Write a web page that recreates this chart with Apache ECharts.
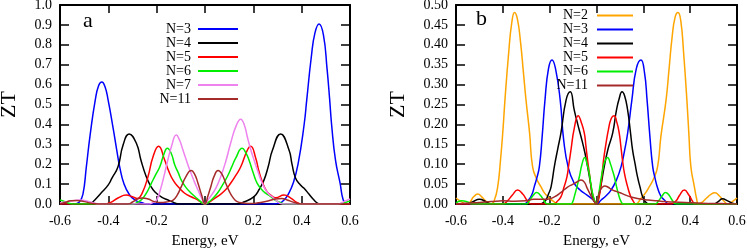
<!DOCTYPE html>
<html><head><meta charset="utf-8">
<script src="https://cdn.jsdelivr.net/npm/echarts@6/dist/echarts.min.js"></script>
<style>html,body{margin:0;padding:0;background:#fff}#c{width:747px;height:249px}</style>
</head><body><div id="c"></div>
<script>
// ---------- data ----------
const energyTicks = [-0.6, -0.4, -0.2, 0, 0.2, 0.4, 0.6];
const ztTicksA = [0, 0.1, 0.2, 0.3, 0.4, 0.5, 0.6, 0.7, 0.8, 0.9, 1.0];
const ztTicksB = [0, 0.05, 0.10, 0.15, 0.20, 0.25, 0.30, 0.35, 0.40, 0.45, 0.50];
const panelLabels = ['a', 'b'];
const xTitle = 'Energy, eV';
const yTitle = 'ZT';

const namesA = ['N=3', 'N=4', 'N=5', 'N=6', 'N=7', 'N=11'];
const namesB = ['N=2', 'N=3', 'N=4', 'N=5', 'N=6', 'N=11'];

// panel a  [energy eV, ZT]
const a_N3 = [[-0.6,0],[-0.54,0],[-0.52,0.01],[-0.505,0.05],[-0.491,0.187],[-0.475,0.35],[-0.454,0.523],[-0.44,0.595],[-0.427,0.613],[-0.414,0.59],[-0.401,0.523],[-0.38,0.38],[-0.365,0.27],[-0.353,0.187],[-0.335,0.10],[-0.312,0.045],[-0.29,0.02],[-0.26,0.006],[-0.236,0],[0.28,0],[0.31,0.005],[0.327,0.02],[0.345,0.05],[0.365,0.105],[0.385,0.2],[0.41,0.397],[0.421,0.523],[0.44,0.74],[0.455,0.86],[0.472,0.905],[0.49,0.85],[0.505,0.68],[0.516,0.523],[0.524,0.397],[0.54,0.22],[0.559,0.105],[0.572,0.02],[0.585,0.003],[0.6,0]];
const a_N4 = [[-0.6,0],[-0.48,0],[-0.465,0.01],[-0.456,0.02],[-0.43,0.055],[-0.401,0.095],[-0.385,0.13],[-0.36,0.187],[-0.339,0.296],[-0.314,0.352],[-0.284,0.305],[-0.265,0.22],[-0.243,0.137],[-0.225,0.09],[-0.208,0.062],[-0.18,0.035],[-0.153,0.02],[-0.13,0.008],[-0.11,0],[0.13,0],[0.16,0.01],[0.203,0.037],[0.225,0.075],[0.244,0.12],[0.262,0.19],[0.279,0.27],[0.313,0.352],[0.348,0.27],[0.36,0.2],[0.375,0.129],[0.395,0.095],[0.41,0.079],[0.43,0.05],[0.451,0.02],[0.465,0.005],[0.476,0],[0.6,0]];
const a_N5 = [[-0.6,0],[-0.42,0],[-0.39,0.008],[-0.36,0.03],[-0.326,0.045],[-0.30,0.036],[-0.28,0.028],[-0.26,0.055],[-0.236,0.137],[-0.215,0.238],[-0.192,0.29],[-0.167,0.221],[-0.15,0.165],[-0.132,0.12],[-0.11,0.085],[-0.084,0.054],[-0.055,0.035],[-0.029,0.02],[-0.012,0.005],[0,0],[0.015,0.008],[0.03,0.02],[0.051,0.037],[0.08,0.065],[0.106,0.104],[0.128,0.145],[0.148,0.187],[0.175,0.27],[0.189,0.29],[0.21,0.23],[0.222,0.17],[0.237,0.112],[0.255,0.065],[0.272,0.045],[0.293,0.032],[0.327,0.045],[0.355,0.03],[0.38,0.008],[0.4,0],[0.6,0]];
const a_N6 = [[-0.6,0.02],[-0.58,0.012],[-0.56,0.003],[-0.54,0],[-0.3,0],[-0.28,0.008],[-0.26,0.025],[-0.24,0.06],[-0.222,0.104],[-0.205,0.145],[-0.187,0.187],[-0.17,0.25],[-0.156,0.28],[-0.14,0.255],[-0.125,0.196],[-0.11,0.155],[-0.098,0.12],[-0.08,0.085],[-0.057,0.054],[-0.03,0.025],[-0.012,0.006],[0,0],[0.012,0.006],[0.03,0.025],[0.051,0.054],[0.07,0.09],[0.092,0.137],[0.11,0.185],[0.127,0.23],[0.154,0.28],[0.168,0.26],[0.182,0.221],[0.2,0.155],[0.216,0.104],[0.24,0.065],[0.272,0.037],[0.29,0.02],[0.31,0.008],[0.33,0],[0.55,0],[0.58,0.008],[0.6,0.015]];
const a_N7 = [[-0.6,0.005],[-0.58,0.01],[-0.55,0.016],[-0.517,0.02],[-0.49,0.015],[-0.46,0.005],[-0.44,0],[-0.23,0],[-0.215,0.008],[-0.2,0.02],[-0.185,0.07],[-0.167,0.154],[-0.152,0.23],[-0.139,0.288],[-0.119,0.347],[-0.105,0.32],[-0.091,0.27],[-0.077,0.22],[-0.063,0.171],[-0.045,0.115],[-0.029,0.07],[-0.014,0.03],[0,0],[0.012,0.02],[0.024,0.04],[0.045,0.08],[0.065,0.137],[0.085,0.21],[0.106,0.305],[0.128,0.39],[0.148,0.426],[0.162,0.4],[0.175,0.338],[0.19,0.27],[0.203,0.221],[0.22,0.16],[0.237,0.104],[0.26,0.055],[0.285,0.029],[0.3,0.012],[0.32,0],[0.55,0],[0.575,0.012],[0.6,0.025]];
const a_N11 = [[-0.6,0],[-0.58,0.008],[-0.555,0.016],[-0.53,0.018],[-0.5,0.012],[-0.47,0.004],[-0.44,0],[-0.32,0],[-0.3,0.01],[-0.28,0.025],[-0.26,0.03],[-0.235,0.025],[-0.21,0.012],[-0.185,0.007],[-0.16,0.01],[-0.132,0.02],[-0.115,0.045],[-0.098,0.087],[-0.08,0.135],[-0.057,0.168],[-0.043,0.15],[-0.029,0.104],[-0.014,0.045],[0,0],[0.012,0.04],[0.024,0.087],[0.038,0.14],[0.054,0.168],[0.07,0.15],[0.086,0.104],[0.1,0.065],[0.113,0.037],[0.133,0.012],[0.16,0.005],[0.19,0.002],[0.22,0.006],[0.26,0.015],[0.29,0.025],[0.317,0.028],[0.34,0.02],[0.37,0.008],[0.4,0],[0.6,0]];

// panel b  [energy eV, ZT]
const b_N2 = [[-0.6,0.015],[-0.58,0.007],[-0.555,0],[-0.54,0.005],[-0.525,0.018],[-0.507,0.025],[-0.49,0.018],[-0.47,0.006],[-0.45,0],[-0.436,0.01],[-0.422,0.043],[-0.41,0.11],[-0.399,0.19],[-0.391,0.261],[-0.375,0.38],[-0.362,0.455],[-0.35,0.481],[-0.338,0.465],[-0.325,0.41],[-0.312,0.33],[-0.301,0.261],[-0.286,0.18],[-0.273,0.094],[-0.255,0.062],[-0.237,0.043],[-0.22,0.026],[-0.2,0.014],[-0.18,0.005],[-0.165,0],[0.165,0],[0.19,0.014],[0.207,0.026],[0.225,0.043],[0.243,0.062],[0.261,0.094],[0.275,0.17],[0.297,0.261],[0.31,0.34],[0.323,0.42],[0.336,0.47],[0.348,0.481],[0.36,0.46],[0.372,0.38],[0.386,0.261],[0.395,0.17],[0.403,0.094],[0.418,0.043],[0.428,0.012],[0.435,0],[0.45,0.004],[0.47,0.015],[0.49,0.025],[0.506,0.028],[0.525,0.02],[0.545,0.007],[0.56,0],[0.58,0.006],[0.6,0.015]];
const b_N3 = [[-0.6,0],[-0.31,0],[-0.29,0.01],[-0.275,0.025],[-0.266,0.043],[-0.255,0.065],[-0.244,0.094],[-0.232,0.17],[-0.22,0.261],[-0.205,0.34],[-0.19,0.362],[-0.175,0.34],[-0.155,0.261],[-0.14,0.16],[-0.12,0.09],[-0.095,0.052],[-0.07,0.035],[-0.052,0.027],[-0.03,0.018],[-0.01,0.008],[0,0],[0.02,0.01],[0.04,0.02],[0.062,0.035],[0.085,0.06],[0.105,0.094],[0.12,0.135],[0.133,0.178],[0.151,0.261],[0.17,0.34],[0.19,0.362],[0.205,0.33],[0.216,0.261],[0.228,0.17],[0.24,0.094],[0.25,0.065],[0.261,0.04],[0.275,0.02],[0.29,0.01],[0.31,0],[0.6,0]];
const b_N4 = [[-0.6,0],[-0.56,0],[-0.53,0.005],[-0.5,0.012],[-0.47,0.005],[-0.45,0],[-0.24,0],[-0.225,0.005],[-0.216,0.01],[-0.205,0.025],[-0.194,0.043],[-0.18,0.094],[-0.165,0.14],[-0.152,0.178],[-0.13,0.261],[-0.112,0.282],[-0.095,0.236],[-0.08,0.2],[-0.066,0.169],[-0.05,0.13],[-0.038,0.094],[-0.025,0.05],[-0.017,0.018],[-0.008,0.005],[0,0],[0.01,0.02],[0.02,0.05],[0.033,0.094],[0.05,0.14],[0.069,0.178],[0.085,0.235],[0.097,0.265],[0.109,0.282],[0.12,0.272],[0.133,0.236],[0.145,0.18],[0.154,0.136],[0.165,0.1],[0.175,0.069],[0.187,0.04],[0.197,0.018],[0.21,0.005],[0.225,0],[0.5,0],[0.52,0.006],[0.538,0.013],[0.56,0.008],[0.58,0.002],[0.6,0]];
const b_N5 = [[-0.6,0],[-0.4,0],[-0.38,0.008],[-0.36,0.022],[-0.337,0.035],[-0.315,0.025],[-0.295,0.008],[-0.28,0],[-0.18,0],[-0.17,0.005],[-0.152,0.018],[-0.14,0.04],[-0.126,0.069],[-0.118,0.1],[-0.109,0.136],[-0.095,0.19],[-0.078,0.222],[-0.065,0.205],[-0.052,0.178],[-0.045,0.145],[-0.038,0.11],[-0.03,0.075],[-0.023,0.043],[-0.012,0.015],[0,0],[0.012,0.02],[0.023,0.07],[0.03,0.11],[0.04,0.15],[0.052,0.19],[0.063,0.215],[0.075,0.222],[0.087,0.205],[0.097,0.178],[0.105,0.14],[0.111,0.11],[0.12,0.075],[0.133,0.043],[0.145,0.02],[0.154,0.01],[0.17,0],[0.32,0],[0.34,0.008],[0.355,0.022],[0.375,0.035],[0.395,0.022],[0.41,0.007],[0.42,0],[0.6,0]];
const b_N6 = [[-0.6,0.003],[-0.575,0.008],[-0.55,0.005],[-0.53,0],[-0.3,0],[-0.285,0.01],[-0.27,0.022],[-0.256,0.029],[-0.24,0.022],[-0.225,0.01],[-0.21,0],[-0.11,0],[-0.1,0.008],[-0.095,0.018],[-0.085,0.04],[-0.073,0.069],[-0.062,0.1],[-0.05,0.117],[-0.04,0.1],[-0.031,0.077],[-0.024,0.05],[-0.017,0.027],[-0.008,0.008],[0,0],[0.006,0.015],[0.012,0.035],[0.02,0.065],[0.026,0.085],[0.036,0.108],[0.047,0.117],[0.06,0.1],[0.068,0.085],[0.076,0.069],[0.087,0.04],[0.097,0.018],[0.105,0.006],[0.115,0],[0.25,0],[0.265,0.008],[0.28,0.02],[0.295,0.029],[0.31,0.022],[0.325,0.008],[0.34,0],[0.6,0]];
const b_N11 = [[-0.6,0],[-0.56,0.002],[-0.5,0.004],[-0.45,0.006],[-0.4,0.008],[-0.35,0.007],[-0.3,0.008],[-0.27,0.012],[-0.24,0.012],[-0.21,0.012],[-0.18,0.018],[-0.15,0.03],[-0.125,0.042],[-0.1,0.05],[-0.082,0.056],[-0.066,0.06],[-0.052,0.055],[-0.04,0.04],[-0.025,0.022],[-0.012,0.008],[0,0],[0.008,0.02],[0.015,0.033],[0.025,0.042],[0.036,0.045],[0.05,0.042],[0.065,0.036],[0.087,0.031],[0.11,0.026],[0.13,0.021],[0.152,0.017],[0.18,0.013],[0.22,0.01],[0.26,0.008],[0.29,0.006],[0.33,0.005],[0.38,0.004],[0.45,0.002],[0.52,0.001],[0.6,0]];

const seriesA = [a_N3, a_N4, a_N5, a_N6, a_N7, a_N11];
const seriesB = [b_N2, b_N3, b_N4, b_N5, b_N6, b_N11];

// ---------- styles ----------
const FONT = '"Liberation Serif", "Times New Roman", serif';
const colorOf = {'N=2':'#ffa500','N=3':'#0000ff','N=4':'#000000','N=5':'#ff0000','N=6':'#00ee00','N=7':'#ee82ee','N=11':'#a52a2a'};

function xAxisCfg(grid, pos, withLabels) {
  return {
    type:'value', gridIndex:grid, position:pos, min:-0.6, max:0.6, interval:0.2,
    axisLine:{show:true, onZero:false, lineStyle:{color:'#000', width:2}},
    axisTick:{show:true, inside:true, length:8, lineStyle:{color:'#000', width:1.5}},
    splitLine:{show:false},
    axisLabel:{show:withLabels, margin:10, color:'#000', fontFamily:FONT, fontSize:14,
      formatter: v => { const r = Math.round(v*10)/10; return r === 0 ? '0' : String(r); }},
    name: withLabels ? xTitle : '', nameLocation:'middle', nameGap:30,
    nameTextStyle:{color:'#000', fontFamily:FONT, fontSize:15}
  };
}
function yAxisCfg(grid, pos, withLabels, max, step, dec) {
  return {
    type:'value', gridIndex:grid, position:pos, min:0, max:max, interval:step,
    axisLine:{show:true, onZero:false, lineStyle:{color:'#000', width:2}},
    axisTick:{show:true, inside:true, length:9, lineStyle:{color:'#000', width:1.5}},
    splitLine:{show:false},
    axisLabel:{show:withLabels, margin:8, color:'#000', fontFamily:FONT, fontSize:14,
      formatter: v => v.toFixed(dec)},
    name: withLabels ? yTitle : '', nameLocation:'middle', nameRotate:90, nameGap: grid === 0 ? 40 : 47,
    nameTextStyle:{color:'#000', fontFamily:FONT, fontSize:22}
  };
}
function mkSeries(names, datas, axisIdx) {
  return names.map((n, i) => ({
    type:'line', name:n, data:datas[i], xAxisIndex:axisIdx, yAxisIndex:axisIdx,
    symbol:'none', showSymbol:false, smooth:0.5, clip:true, animation:false,
    lineStyle:{width:1.5, color:colorOf[n]}, itemStyle:{color:colorOf[n]}
  }));
}
function legendCfg(names, right, top, w, lh, pad) {
  return {
    data:names, orient:'vertical', align:'right', right:right, top:top, padding:0,
    itemWidth:w, itemHeight:2, itemGap:0, icon:'rect', selectedMode:false,
    textStyle:{color:'#000', fontFamily:FONT, fontSize:14, lineHeight:lh, padding:[0,pad,0,0]}
  };
}

const chart = echarts.init(document.getElementById('c'), null, {renderer:'canvas'});
chart.setOption({
  animation:false,
  backgroundColor:'#fff',
  grid:[
    {left:60, top:5, width:290, height:199, containLabel:false, outerBoundsMode:'none'},
    {left:456, top:5, width:281, height:199, containLabel:false, outerBoundsMode:'none'}
  ],
  xAxis:[ xAxisCfg(0,'bottom',true), xAxisCfg(1,'bottom',true), xAxisCfg(0,'top',false), xAxisCfg(1,'top',false) ],
  yAxis:[ yAxisCfg(0,'left',true,1.0,0.1,1), yAxisCfg(1,'left',true,0.5,0.05,2), yAxisCfg(0,'right',false,1.0,0.1,1), yAxisCfg(1,'right',false,0.5,0.05,2) ],
  legend:[ legendCfg(namesA, 509, 22, 40, 13.2, 2), legendCfg(namesB, 114, 8.5, 36, 12.4, 4) ],
  graphic:[
    {type:'text', left:83, top:10, style:{text:panelLabels[0], font:'22px ' + FONT, fill:'#000'}},
    {type:'text', left:476, top:8, style:{text:panelLabels[1], font:'22px ' + FONT, fill:'#000'}}
  ],
  series: mkSeries(namesA, seriesA, 0).concat(mkSeries(namesB, seriesB, 1))
});
</script></body></html>
